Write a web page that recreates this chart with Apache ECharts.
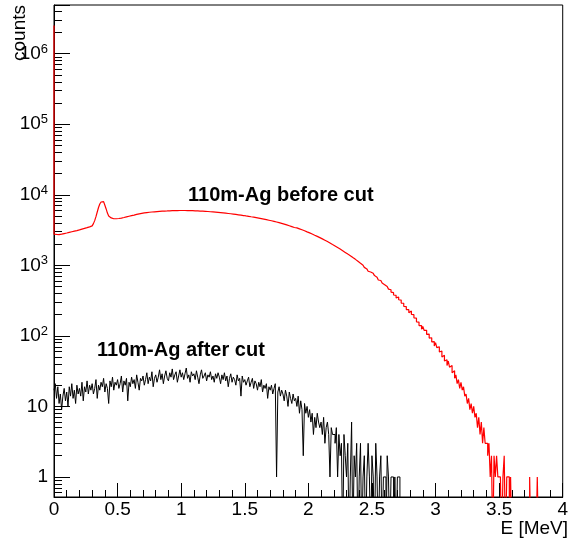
<!DOCTYPE html>
<html>
<head>
<meta charset="utf-8">
<script src="https://cdn.jsdelivr.net/npm/echarts@6/dist/echarts.min.js"></script>
<style>
  html, body { margin: 0; padding: 0; background: #fff; }
  #chart { width: 571px; height: 542px; }
</style>
</head>
<body>
<div id="chart"></div>
<script>
// energy bins [MeV]
const binWidthBefore = 0.01;
const binWidthAfter = 0.01;
const underflowBefore = 2.5e6;

// 110m-Ag before cut, counts per 0.01 MeV bin starting at 0
const countsBefore = [
  2760, 2740, 2720, 2730, 2750, 2770, 2800, 2820, 2850, 2870,
  2900, 2930, 2960, 2990, 3020, 3050, 3080, 3110, 3150, 3180,
  3220, 3260, 3300, 3340, 3380, 3420, 3460, 3510, 3560, 3620,
  3700, 3900, 4300, 4900, 5700, 6600, 7400, 7900, 8000, 7700,
  7100, 6300, 5500, 5000, 4700, 4600, 4570, 4560, 4570, 4590,
  4610, 4640, 4680, 4720, 4760, 4810, 4860, 4910, 4960, 5010,
  5060, 5110, 5160, 5220, 5270, 5320, 5370, 5410, 5450, 5490,
  5530, 5560, 5590, 5620, 5650, 5670, 5700, 5720, 5740, 5760,
  5780, 5800, 5820, 5830, 5850, 5860, 5880, 5890, 5900, 5920,
  5930, 5940, 5950, 5950, 5960, 5970, 5980, 5980, 5990, 5990,
  5990, 5990, 5990, 5980, 5980, 5970, 5970, 5960, 5950, 5940,
  5930, 5920, 5910, 5900, 5880, 5870, 5850, 5840, 5820, 5800,
  5790, 5770, 5750, 5730, 5710, 5690, 5670, 5650, 5630, 5600,
  5580, 5560, 5530, 5510, 5480, 5460, 5430, 5410, 5380, 5350,
  5320, 5290, 5260, 5230, 5200, 5170, 5140, 5110, 5080, 5040,
  5010, 4980, 4950, 4920, 4880, 4850, 4820, 4780, 4750, 4710,
  4680, 4640, 4600, 4560, 4520, 4480, 4440, 4400, 4360, 4320,
  4280, 4240, 4200, 4150, 4110, 4060, 4020, 3970, 3930, 3880,
  3840, 3790, 3740, 3690, 3640, 3590, 3540, 3490, 3440, 3390,
  3390, 3340, 3290, 3240, 3190, 3140, 3090, 3030, 2980, 2930,
  2880, 2830, 2780, 2720, 2670, 2620, 2570, 2520, 2470, 2420,
  2370, 2320, 2270, 2220, 2170, 2120, 2070, 2020, 1970, 1925,
  1880, 1830, 1790, 1740, 1700, 1650, 1610, 1570, 1525, 1485,
  1445, 1400, 1370, 1320, 1290, 1240, 1215, 1165, 1140, 1095,
  1070, 1030, 1005, 960, 935, 890, 870, 825, 805, 765,
  770, 735, 715, 680, 660, 620, 610, 575, 560, 530,
  535, 500, 492, 460, 450, 418, 410, 380, 375, 345,
  355, 325, 322, 292, 290, 262, 260, 236, 235, 212,
  225, 202, 200, 180, 178, 158, 157, 140, 140, 124,
  136, 120, 120, 105, 106, 93, 94, 82, 83, 72,
  80, 68, 70, 59, 61, 50, 53, 44, 46, 38,
  44, 36, 38, 30, 32, 25, 28, 21, 24, 18,
  22, 17, 19, 14, 15, 11, 13, 9, 11, 8,
  10, 7, 8, 5, 7, 4, 6, 3, 5, 3,
  3, 2, 3, 1, 2, 0, 2, 1, 2, 1,
  1, 1, 0, 1, 2, 0, 1, 1, 0, 1,
  0, 0, 0, 0, 0, 0, 0, 0, 0, 0,
  0, 0, 0, 0, 1, 0, 0, 0, 0, 0,
  1
];

// 110m-Ag after cut, counts per 0.01 MeV bin starting at 0
const countsAfter = [
  17, 21, 13, 19, 11, 15, 9, 14, 18, 12,
  16, 10, 19, 14, 21, 13, 17, 11, 20, 15,
  18, 14, 22, 12, 19, 16, 23, 15, 20, 17,
  21, 15, 18, 24, 13, 20, 17, 22, 19, 25,
  16, 21, 18, 11, 23, 19, 26, 17, 22, 20,
  24, 18, 21, 27, 16, 23, 20, 25, 12, 22,
  19, 26, 21, 24, 18, 28, 22, 17, 25, 23,
  27, 20, 24, 30, 21, 26, 23, 31, 19, 25,
  28, 22, 26, 33, 24, 29, 21, 27, 32, 25,
  23, 30, 26, 34, 24, 28, 31, 22, 27, 33,
  26, 30, 24, 29, 35, 25, 28, 22, 31, 27,
  29, 24, 32, 26, 21, 28, 33, 25, 27, 30,
  23, 28, 26, 31, 24, 27, 22, 29, 25, 30,
  26, 21, 28, 24, 30, 23, 27, 19, 25, 29,
  22, 26, 24, 20, 28, 23, 25, 14, 27, 22,
  24, 20, 23, 26, 19, 22, 25, 18, 23, 21,
  17, 22, 19, 24, 16, 20, 18, 21, 13, 19,
  17, 20, 15, 18, 21, 1, 16, 19, 14, 17,
  15, 12, 17, 14, 10, 16, 13, 11, 15, 12,
  13, 10, 14, 8, 12, 9, 2, 11, 8, 10,
  7, 9, 6, 8, 4, 7, 5, 8, 6, 5,
  6, 4, 7, 3, 5, 6, 4, 1, 5, 4,
  4, 3, 5, 1, 4, 2, 3, 0, 4, 2,
  1, 3, 0, 1, 6, 0, 2, 1, 3, 0,
  1, 3, 0, 1, 2, 0, 1, 3, 1, 0,
  2, 1, 0, 3, 1, 0, 1, 2, 0, 1,
  1, 0, 2, 1, 0, 1, 1, 0, 1, 0,
  1, 1, 0
];

const xTickLabels = ['0', '0.5', '1', '1.5', '2', '2.5', '3', '3.5', '4'];
const yDecades = [1, 10, 100, 1000, 10000, 100000, 1000000];
const yTickLabels = ['1', '10', '10{s|2}', '10{s|3}', '10{s|4}', '10{s|5}', '10{s|6}'];

const FONT = '"Liberation Sans", Arial, Helvetica, sans-serif';
const EMPTY = 0.1; // empty bins sit below the visible range

function toSteps(counts, bw, underflow) {
  const pts = [];
  if (underflow) pts.push([0, underflow]);
  for (let i = 0; i < counts.length; i++) {
    pts.push([i * bw, counts[i] > 0 ? counts[i] : EMPTY]);
  }
  pts.push([counts.length * bw, EMPTY]);
  return pts;
}

const chart = echarts.init(document.getElementById('chart'));

const option = {
  animation: false,
  backgroundColor: '#fff',
  grid: {
    left: 54,
    right: 3,
    top: 5,
    bottom: 45,
    show: true,
    borderColor: '#000',
    borderWidth: 1,
    backgroundColor: 'transparent'
  },
  xAxis: {
    type: 'value',
    min: 0,
    max: 4,
    interval: 0.5,
    axisLine: { lineStyle: { color: '#000', width: 1 } },
    axisTick: { inside: true, length: 14, lineStyle: { color: '#000' } },
    minorTick: { show: true, splitNumber: 5, length: 7, lineStyle: { color: '#000' } },
    splitLine: { show: false },
    axisLabel: {
      margin: 3,
      color: '#000',
      fontFamily: FONT,
      fontSize: 19,
      formatter: function (v) {
        const i = Math.round(v / 0.5);
        return xTickLabels[i] !== undefined ? xTickLabels[i] : '';
      }
    }
  },
  yAxis: {
    type: 'log',
    logBase: 10,
    min: 0.52,
    max: 4.9e6,
    axisLine: { show: true, lineStyle: { color: '#000', width: 1 } },
    axisTick: { show: true, inside: true, length: 16, lineStyle: { color: '#000' } },
    minorTick: { show: true, splitNumber: 9, length: 8, lineStyle: { color: '#000' } },
    splitLine: { show: false },
    axisLabel: {
      margin: 6,
      color: '#000',
      fontFamily: FONT,
      fontSize: 19,
      showMinLabel: false,
      showMaxLabel: false,
      formatter: function (v) {
        for (let i = 0; i < yDecades.length; i++) {
          if (Math.abs(v / yDecades[i] - 1) < 1e-6) return yTickLabels[i];
        }
        return '';
      },
      rich: {
        s: { fontSize: 13, fontFamily: FONT, color: '#000', verticalAlign: 'bottom', padding: [0, 0, 9, 0] }
      }
    }
  },
  series: [
    {
      name: '110m-Ag before cut',
      type: 'line',
      step: 'end',
      showSymbol: false,
      clip: true,
      data: toSteps(countsBefore, binWidthBefore, underflowBefore),
      lineStyle: { color: '#ff0000', width: 1.2 },
      itemStyle: { color: '#ff0000' },
      z: 2
    },
    {
      name: '110m-Ag after cut',
      type: 'line',
      step: 'end',
      showSymbol: false,
      clip: true,
      data: toSteps(countsAfter, binWidthAfter),
      lineStyle: { color: '#000', width: 1 },
      itemStyle: { color: '#000' },
      z: 3
    }
  ],
  graphic: [
    {
      type: 'text', x: 188, y: 205,
      style: { text: '110m-Ag before cut', font: 'bold 20px ' + FONT, fill: '#000', align: 'left', verticalAlign: 'bottom' }
    },
    {
      type: 'text', x: 97, y: 360,
      style: { text: '110m-Ag after cut', font: 'bold 20px ' + FONT, fill: '#000', align: 'left', verticalAlign: 'bottom' }
    },
    {
      type: 'text', x: 568, y: 538,
      style: { text: 'E [MeV]', font: '19px ' + FONT, fill: '#000', align: 'right', verticalAlign: 'bottom' }
    },
    {
      type: 'text', x: 29, y: 5, rotation: Math.PI / 2,
      style: { text: 'counts', font: '19px ' + FONT, fill: '#000', align: 'right', verticalAlign: 'bottom' }
    }
  ]
};

chart.setOption(option);
</script>
</body>
</html>
